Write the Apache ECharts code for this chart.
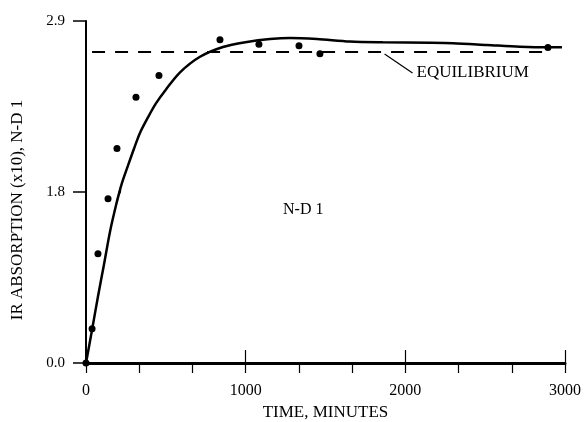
<!DOCTYPE html>
<html>
<head>
<meta charset="utf-8">
<script src="https://cdn.jsdelivr.net/npm/echarts@6/dist/echarts.min.js"></script>
<style>
    html, body { margin: 0; padding: 0; background: #fff; }
    #chart { width: 587px; height: 422px; }
</style>
</head>
<body>
<div id="chart"></div>
<script>
    // measured points
    const pointTime = [0, 38, 75, 138, 194, 313, 457, 839, 1083, 1334, 1465, 2893];
    const pointValue = [0, 0.36, 1.15, 1.73, 2.08, 2.41, 2.55, 2.78, 2.75, 2.74, 2.69, 2.73];

    // fitted curve
    const curveTime = [0, 38, 75, 113, 150, 188, 210, 226, 263, 301, 338, 388, 438, 501, 589, 714, 858, 1008, 1152, 1278, 1447, 1653, 1860, 2154, 2298, 2511, 2718, 2893, 2981];
    const curveValue = [0, 0.35, 0.70, 1.04, 1.38, 1.66, 1.80, 1.86, 1.97, 2.08, 2.18, 2.28, 2.37, 2.46, 2.57, 2.67, 2.733, 2.765, 2.784, 2.791, 2.784, 2.768, 2.763, 2.760, 2.757, 2.746, 2.735, 2.731, 2.731];

    // equilibrium level and its pointer
    const eqTime = [38, 2905];
    const eqValue = 2.70;
    const pointerTime = [1870, 2045];
    const pointerValue = [2.688, 2.566];

    // y tick labels (axis is drawn in two linear pieces: 0-1.8 and 1.8-2.9)
    const yTicks = [0.0, 1.8, 2.9];
    const xTicks = [0, 1000, 2000, 3000];

    const FONT = '"Liberation Serif", "DejaVu Serif", serif';
    const BLACK = '#000';

    const points = pointTime.map((t, i) => [t, pointValue[i]]);
    const curve = curveTime.map((t, i) => [t, curveValue[i]]);
    const upperPoints = points.filter(p => p[1] >= yTicks[1]);
    const lowerPoints = points.filter(p => p[1] < yTicks[1]);

    let chart = echarts.init(document.getElementById('chart'), null, {renderer: 'canvas'});

    const xBase = {
        type: 'value',
        min: xTicks[0],
        max: xTicks[xTicks.length - 1],
        interval: xTicks[1] - xTicks[0],
        splitLine: {show: false}
    };

    let option = {
        backgroundColor: '#fff',
        animation: false,
        grid: [
            {left: 86, right: 22, top: 21, height: 171},
            {left: 86, right: 22, top: 192, height: 171}
        ],
        xAxis: [
            Object.assign({}, xBase, {gridIndex: 0, show: false}),
            Object.assign({}, xBase, {
                gridIndex: 1,
                position: 'bottom',
                axisLine: {lineStyle: {color: BLACK, width: 3}},
                axisTick: {length: 10, lineStyle: {color: BLACK, width: 1.2}},
                minorTick: {show: true, splitNumber: 3, length: 10, lineStyle: {color: BLACK, width: 1.2}},
                axisLabel: {
                    margin: 20, color: BLACK, fontFamily: FONT, fontSize: 16,
                    formatter: v => String(v)
                },
                name: 'TIME, MINUTES',
                nameLocation: 'middle',
                nameGap: 41,
                nameTextStyle: {color: BLACK, fontFamily: FONT, fontSize: 17}
            }),
            // major ticks also poke up above the axis
            Object.assign({}, xBase, {
                gridIndex: 1,
                position: 'bottom',
                offset: 0,
                axisLine: {show: false},
                axisTick: {inside: true, length: 13, lineStyle: {color: BLACK, width: 1.2}},
                axisLabel: {show: false}
            })
        ],
        yAxis: [
            {
                type: 'value',
                gridIndex: 0,
                min: yTicks[1],
                max: yTicks[2],
                interval: yTicks[2] - yTicks[1],
                splitLine: {show: false},
                axisLine: {show: true, lineStyle: {color: BLACK, width: 2}},
                axisTick: {show: true, length: 13, lineStyle: {color: BLACK, width: 1.5}},
                axisLabel: {
                    margin: 21, color: BLACK, fontFamily: FONT, fontSize: 15,
                    formatter: v => v > yTicks[1] + 0.01 ? v.toFixed(1) : ''
                }
            },
            {
                type: 'value',
                gridIndex: 1,
                min: yTicks[0],
                max: yTicks[1],
                interval: yTicks[1] - yTicks[0],
                splitLine: {show: false},
                axisLine: {show: true, lineStyle: {color: BLACK, width: 2}},
                axisTick: {show: true, length: 13, lineStyle: {color: BLACK, width: 1.5}},
                axisLabel: {
                    margin: 21, color: BLACK, fontFamily: FONT, fontSize: 15,
                    formatter: v => v.toFixed(1)
                }
            }
        ],
        graphic: [
            {
                type: 'text',
                x: 18,
                y: 210,
                rotation: Math.PI / 2,
                style: {
                    text: 'IR ABSORPTION (x10), N-D 1',
                    font: '17px ' + FONT,
                    fill: BLACK,
                    align: 'center',
                    verticalAlign: 'middle'
                }
            },
            {
                type: 'text',
                x: 283,
                y: 210,
                style: {
                    text: 'N-D 1',
                    font: '16px ' + FONT,
                    fill: BLACK,
                    align: 'left',
                    verticalAlign: 'middle'
                }
            }
        ],
        series: [
            {
                name: 'curve upper',
                type: 'line',
                xAxisIndex: 0,
                yAxisIndex: 0,
                data: curve,
                smooth: 0.3,
                clip: true,
                showSymbol: false,
                lineStyle: {color: BLACK, width: 2.5}
            },
            {
                name: 'curve lower',
                type: 'line',
                xAxisIndex: 1,
                yAxisIndex: 1,
                data: curve,
                smooth: 0.3,
                clip: true,
                showSymbol: false,
                lineStyle: {color: BLACK, width: 2.5}
            },
            {
                name: 'equilibrium',
                type: 'line',
                xAxisIndex: 0,
                yAxisIndex: 0,
                data: eqTime.map(t => [t, eqValue]),
                showSymbol: false,
                lineStyle: {color: BLACK, width: 2, type: [13, 10]}
            },
            {
                name: 'pointer',
                type: 'line',
                xAxisIndex: 0,
                yAxisIndex: 0,
                data: pointerTime.map((t, i) => [t, pointerValue[i]]),
                showSymbol: false,
                lineStyle: {color: BLACK, width: 1.2},
                endLabel: {
                    show: true,
                    formatter: 'EQUILIBRIUM',
                    distance: 4,
                    color: BLACK,
                    fontFamily: FONT,
                    fontSize: 17
                }
            },
            {
                name: 'points upper',
                type: 'scatter',
                xAxisIndex: 0,
                yAxisIndex: 0,
                data: upperPoints,
                symbolSize: 7,
                itemStyle: {color: BLACK, opacity: 1}
            },
            {
                name: 'points lower',
                type: 'scatter',
                xAxisIndex: 1,
                yAxisIndex: 1,
                data: lowerPoints,
                symbolSize: 7,
                itemStyle: {color: BLACK, opacity: 1}
            }
        ]
    };
    chart.setOption(option);
</script>
</body>
</html>
